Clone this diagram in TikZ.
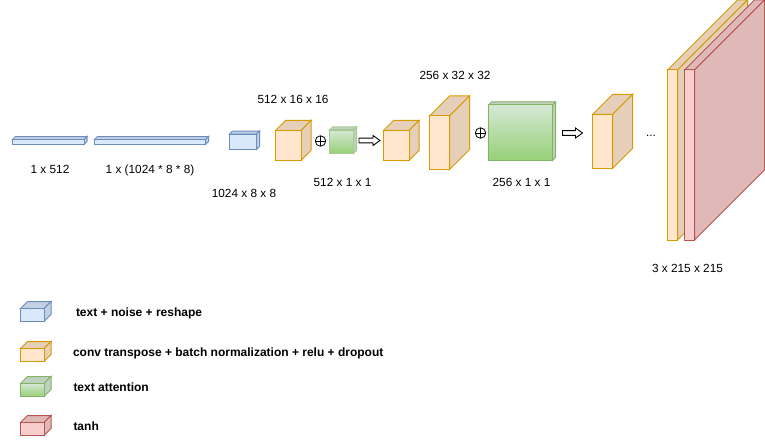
\documentclass[tikz,border=0pt]{standalone}
\usepackage{fontspec}
\setmainfont{Liberation Sans}
\usetikzlibrary{calc}
\definecolor{bluef}{HTML}{DAE8FC}\definecolor{blues}{HTML}{6C8EBF}
\definecolor{orf}{HTML}{FFE6CC}\definecolor{ors}{HTML}{D79B00}
\definecolor{grf}{HTML}{D5E8D4}\definecolor{grb}{HTML}{97D077}\definecolor{grs}{HTML}{82B366}
\definecolor{redf}{HTML}{F8CECC}\definecolor{reds}{HTML}{B85450}
% #1 name, #2 left, #3 top of front, #4 right, #5 bottom, #6 depth, #7 fill, #8 stroke, #9 front fill options
\newcommand{\cuboid}[9]{%
  \coordinate (#1) at (#2,#3);
  \path[fill=#7!90!black,draw=#8] (#2,#3) -- ++(#6,-#6) -- (#4+#6,#3-#6) -- (#4,#3) -- cycle;
  \path[fill=#7!90!black,draw=#8] (#4,#3) -- (#4+#6,#3-#6) -- (#4+#6,#5-#6) -- (#4,#5) -- cycle;
  \path[#9,draw=#8] (#2,#3) rectangle (#4,#5);
}
\newcommand{\hollowarrow}[4]{% name, x1, x2, y
  \coordinate (#1) at (#2,#4);
  \path[draw=black,fill=white,line width=.9pt]
    (#2,#4-2.4) -- (#3-7,#4-2.4) -- (#3-7,#4-5) -- (#3,#4) -- (#3-7,#4+5) -- (#3-7,#4+2.4) -- (#2,#4+2.4) -- cycle;
}
\tikzset{
  lbl/.style={inner sep=0pt,anchor=base,font=\fontsize{11.8}{14}\selectfont},
  leg/.style={inner sep=0pt,anchor=base west,font=\fontsize{12}{14}\selectfont\bfseries},
  oplusmark/.style={circle,draw=black,line width=.8pt,minimum size=10.5pt,inner sep=0pt,
    path picture={\draw[line width=.8pt] (path picture bounding box.north) -- (path picture bounding box.south)
      (path picture bounding box.west) -- (path picture bounding box.east);}},
}
\begin{document}
\begin{tikzpicture}[x=1pt,y=-1pt,line width=1pt]
\useasboundingbox (0,0) rectangle (765,441);
\clip (0,0) rectangle (765,441);
\fill[white] (0,0) rectangle (765,441);
% blue layers
\cuboid{a}{12.5}{139.5}{84}{144.5}{3}{bluef}{blues}{fill=bluef}
\cuboid{b}{94.5}{139.5}{205.5}{144.5}{3}{bluef}{blues}{fill=bluef}
\cuboid{c}{229.5}{134}{256.5}{149.5}{3}{bluef}{blues}{fill=bluef}
% first block
\cuboid{d}{275.5}{130.5}{301}{160.5}{10}{orf}{ors}{fill=orf}
\node[oplusmark] (p1) at (320.5,141) {};
\cuboid{e}{329.5}{130}{353.5}{153.5}{3}{grf}{grs!70!white}{top color=grf,bottom color=grb}
\hollowarrow{ar1}{359}{380}{140.5}
\cuboid{f}{383.5}{130.5}{409}{160.5}{10}{orf}{ors}{fill=orf}
\cuboid{g}{429.5}{116}{449.5}{169.5}{20}{orf}{ors}{fill=orf}
\node[oplusmark] (p2) at (480.5,133) {};
\cuboid{h}{488.5}{105}{552.5}{160.5}{3}{grf}{grs}{top color=grf,bottom color=grb}
\hollowarrow{ar2}{562.5}{582.5}{133}
\cuboid{i}{592.5}{114.5}{612.5}{168.5}{20}{orf}{ors}{fill=orf}
\node[lbl] (dots) at (651,136.5) {...};
\cuboid{j}{667.5}{70}{677.5}{240}{70}{orf}{ors}{fill=orf}
\cuboid{k}{684.5}{70}{694.5}{240}{70}{redf}{reds}{fill=redf}
% size labels
\node[lbl] (t1) at (50,173.5) {1 x 512};
\node[lbl] (t2) at (150,173.5) {1 x (1024 * 8 * 8)};
\node[lbl] (t3) at (244,197.5) {1024 x 8 x 8};
\node[lbl] (t4) at (293,103.6) {512 x 16 x 16};
\node[lbl] (t5) at (342.5,186.4) {512 x 1 x 1};
\node[lbl] (t6) at (455,79.8) {256 x 32 x 32};
\node[lbl] (t7) at (521.5,186.6) {256 x 1 x 1};
\node[lbl] (t8) at (687.5,272.8) {3 x 215 x 215};
% legend
\cuboid{la}{20.5}{308.5}{44}{321.5}{7}{bluef}{blues}{fill=bluef}
\cuboid{lb}{20.5}{348.5}{44}{361.5}{7}{orf}{ors}{fill=orf}
\cuboid{lc}{20.5}{383.5}{44}{396.5}{7}{grf}{grs}{top color=grf,bottom color=grb}
\cuboid{ld}{20.5}{422.5}{44}{435.5}{7}{redf}{reds}{fill=redf}
\node[leg] (l1) at (75.5,316.4) {text + noise + reshape};
\node[leg] (l2) at (72.5,356.4) {conv transpose + batch normalization + relu + dropout};
\node[leg] (l3) at (73,391.4) {text attention};
\node[leg] (l4) at (73,430.4) {tanh};
\end{tikzpicture}
\end{document}
